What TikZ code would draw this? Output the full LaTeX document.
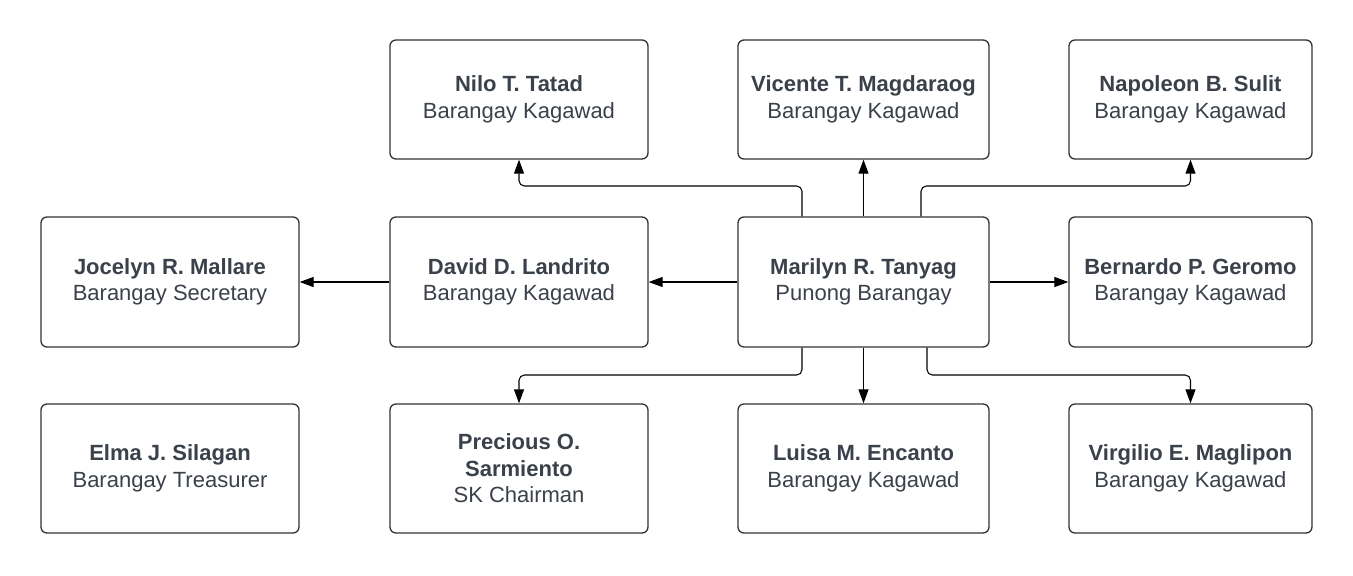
\documentclass[tikz,border=0pt]{standalone}
\usepackage{fontspec}
\setmainfont{Liberation Sans}
\usetikzlibrary{arrows.meta}
\definecolor{txt}{HTML}{3A414A}
\definecolor{edge}{HTML}{333333}
\begin{document}
\begin{tikzpicture}[x=0.75pt,y=-0.75pt,
  box/.style={draw=edge,line width=1pt,rounded corners=4.5pt,fill=white,
    inner sep=0pt,align=center,text=txt,font=\fontsize{16.5}{19.8}\selectfont},
  conn/.style={draw=black,line width=0.8pt,rounded corners=4pt,
    -{Triangle[length=10.5pt,width=7.5pt]}}]
\useasboundingbox (0,0) rectangle (1353,575);
% row 1
\node[box,minimum width=193.5pt,minimum height=89.25pt] (nilo) at (519,99.5)
  {\textbf{Nilo T. Tatad}\\Barangay Kagawad};
\node[box,minimum width=188.25pt,minimum height=89.25pt] (vicente) at (863.5,99.5)
  {\textbf{Vicente T. Magdaraog}\\Barangay Kagawad};
\node[box,minimum width=182.25pt,minimum height=89.25pt] (napoleon) at (1190.5,99.5)
  {\textbf{Napoleon B. Sulit}\\Barangay Kagawad};
% row 2
\node[box,minimum width=193.5pt,minimum height=97.5pt] (jocelyn) at (170,282)
  {\textbf{Jocelyn R. Mallare}\\Barangay Secretary};
\node[box,minimum width=193.5pt,minimum height=97.5pt] (david) at (519,282)
  {\textbf{David D. Landrito}\\Barangay Kagawad};
\node[box,minimum width=188.25pt,minimum height=97.5pt] (marilyn) at (863.5,282)
  {\textbf{Marilyn R. Tanyag}\\Punong Barangay};
\node[box,minimum width=182.25pt,minimum height=97.5pt] (bernardo) at (1190.5,282)
  {\textbf{Bernardo P. Geromo}\\Barangay Kagawad};
% row 3
\node[box,minimum width=193.5pt,minimum height=96.75pt] (elma) at (170,468.5)
  {\textbf{Elma J. Silagan}\\Barangay Treasurer};
\node[box,minimum width=193.5pt,minimum height=96.75pt] (precious) at (519,468.5)
  {\textbf{Precious O.}\\\textbf{Sarmiento}\\SK Chairman};
\node[box,minimum width=188.25pt,minimum height=96.75pt] (luisa) at (863.5,468.5)
  {\textbf{Luisa M. Encanto}\\Barangay Kagawad};
\node[box,minimum width=182.25pt,minimum height=96.75pt] (virgilio) at (1190.5,468.5)
  {\textbf{Virgilio E. Maglipon}\\Barangay Kagawad};
% connectors up
\draw[conn] (marilyn.north -| 802,0) -- (802,186) -| (nilo.south);
\draw[conn] (marilyn.north) -- (vicente.south);
\draw[conn] (marilyn.north -| 921,0) -- (921,186) -| (napoleon.south);
% horizontal
\draw[conn] (marilyn.west) -- (david.east);
\draw[conn] (david.west) -- (jocelyn.east);
\draw[conn] (marilyn.east) -- (bernardo.west);
% connectors down
\draw[conn] (marilyn.south -| 802,0) -- (802,375) -| (precious.north);
\draw[conn] (marilyn.south) -- (luisa.north);
\draw[conn] (marilyn.south -| 927,0) -- (927,375) -| (virgilio.north);
\end{tikzpicture}
\end{document}
